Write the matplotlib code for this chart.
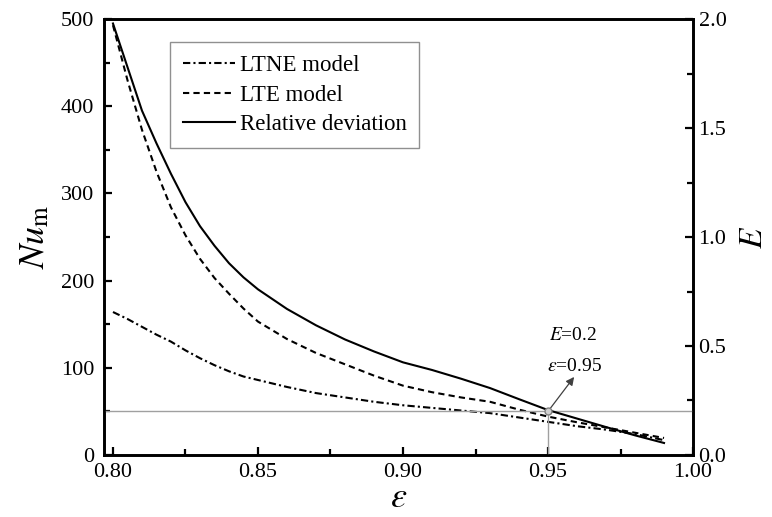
import numpy as np
import matplotlib
matplotlib.use("Agg")
import matplotlib.pyplot as plt
from matplotlib.ticker import MultipleLocator

plt.rcParams['font.family'] = ['Liberation Serif', 'DejaVu Serif']
plt.rcParams['mathtext.fontset'] = 'stix'

# porosity values and curves
eps = [0.80, 0.805, 0.81, 0.815, 0.82, 0.825, 0.83, 0.835, 0.84, 0.845, 0.85,
       0.86, 0.87, 0.88, 0.89, 0.90, 0.91, 0.92, 0.93, 0.94, 0.95,
       0.96, 0.97, 0.98, 0.99]
nu_ltne = [164, 156, 147, 138, 130, 120, 111, 103, 96, 90, 86,
           78, 71, 66, 61, 57, 54, 51, 48, 43, 38,
           33, 29, 24, 17]
nu_lte = [493, 430, 373, 325, 284, 252, 225, 203, 185, 168, 153,
          133, 117, 104, 91, 79.5, 72, 66, 61, 52, 44,
          37.5, 31.5, 25.5, 19.5]
rel_dev = [1.98, 1.78, 1.58, 1.43, 1.29, 1.16, 1.05, 0.96, 0.88, 0.815, 0.76,
           0.67, 0.595, 0.53, 0.475, 0.425, 0.39, 0.35, 0.307, 0.256, 0.206,
           0.167, 0.128, 0.09, 0.055]

mark_eps = 0.95
mark_E = 0.2

fig = plt.figure(figsize=(7.72, 5.17), dpi=100)
ax = fig.add_axes([0.1347, 0.120, 0.7630, 0.843])
ax2 = ax.twinx()

lw = 1.5
l1, = ax.plot(eps, nu_ltne, color='black', lw=lw, dashes=(3.5, 1.5, 1, 1.5),
              label='LTNE model')
l2, = ax.plot(eps, nu_lte, color='black', lw=lw, dashes=(3, 2),
              label='LTE model')
l3, = ax2.plot(eps, rel_dev, color='black', lw=lw, label='Relative deviation')

# reference lines at E = 0.2 and eps = 0.95
ax2.axhline(mark_E, color='#a0a0a0', lw=1.0, zorder=1)
ax2.plot([mark_eps, mark_eps], [0, mark_E], color='#a0a0a0', lw=1.0, zorder=1)
ax2.plot([mark_eps], [mark_E], 'o', ms=5, mfc='#d0d0d0', mec='#808080', mew=1, zorder=5)
ax2.annotate('', xy=(0.959, 0.358), xytext=(mark_eps, mark_E),
             arrowprops=dict(arrowstyle='-|>', color='#404040', lw=0.9,
                             mutation_scale=12, shrinkA=2, shrinkB=0))
ax2.text(0.9503, 0.546, r'$E$=0.2', fontsize=14, ha='left', va='center')
ax2.text(0.9498, 0.408, r'$\varepsilon$=0.95', fontsize=14, ha='left', va='center')

ax.set_xlim(0.7969, 1.0)
ax.set_ylim(0, 500)
ax2.set_ylim(0, 2.0)

ax.xaxis.set_major_locator(MultipleLocator(0.05))
ax.xaxis.set_minor_locator(MultipleLocator(0.025))
ax.yaxis.set_major_locator(MultipleLocator(100))
ax.yaxis.set_minor_locator(MultipleLocator(50))
ax2.yaxis.set_major_locator(MultipleLocator(0.5))
ax2.yaxis.set_minor_locator(MultipleLocator(0.25))
ax.xaxis.set_major_formatter(plt.FormatStrFormatter('%.2f'))
ax2.yaxis.set_major_formatter(plt.FormatStrFormatter('%.1f'))

ax.tick_params(axis='x', which='both', direction='in', top=False, labelsize=16, pad=6)
ax.tick_params(axis='y', which='both', direction='in', right=False, labelsize=16, pad=7)
ax2.tick_params(axis='y', which='both', direction='in', labelsize=16, pad=4)
for a in (ax, ax2):
    a.tick_params(which='major', length=6, width=1.6)
    a.tick_params(which='minor', length=4.5, width=1.6)
    for s in a.spines.values():
        s.set_linewidth(1.9)

ax.set_xlabel(r'$\varepsilon$', fontsize=26, labelpad=0)
ax.set_ylabel(r'$Nu_{\rm m}$', fontsize=26, labelpad=6)
ax2.set_ylabel(r'$E$', fontsize=24, labelpad=9)

leg = ax.legend(handles=[l1, l2, l3], loc='upper left',
                bbox_to_anchor=(0.112, 0.947), borderaxespad=0,
                fontsize=16.5, labelspacing=0.38, handlelength=2.3,
                handletextpad=0.2, borderpad=0.55, fancybox=False,
                edgecolor='#909090', framealpha=1)
leg.get_frame().set_linewidth(1.0)

fig.savefig('out.png', dpi=100)
